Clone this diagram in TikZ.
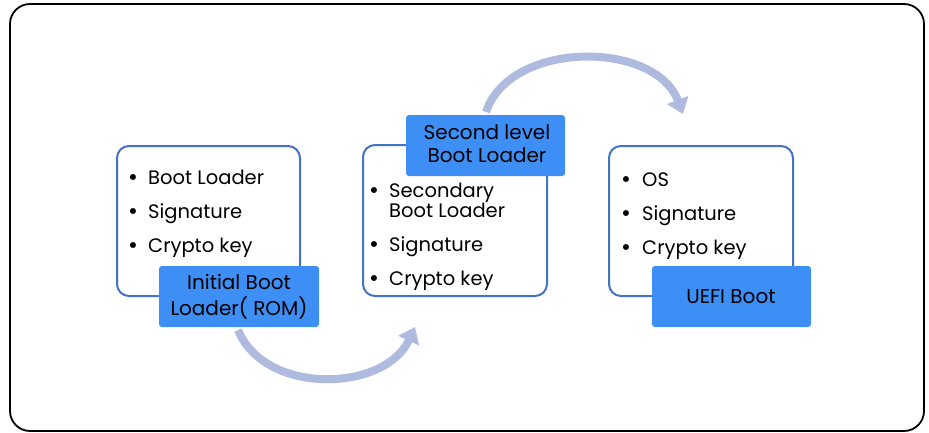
\documentclass[tikz,border=0pt]{standalone}
\usepackage{fontspec}
\setmainfont{Poppins}
\usetikzlibrary{arrows.meta}
\definecolor{outl}{HTML}{4472C4}
\definecolor{lblue}{HTML}{3D8EF5}
\definecolor{arr}{HTML}{AEBBDF}
\tikzset{
  card/.style={draw=outl, line width=2pt, fill=white, rounded corners=12pt},
  tag/.style={fill=lblue, rounded corners=3pt},
  item/.style={anchor=base west, inner sep=0pt, font=\fontsize{19.5}{20}\selectfont},
  dot/.style={anchor=base, inner sep=0pt, font=\fontsize{24}{20}\selectfont},
  tagtext/.style={align=center, inner sep=0pt, font=\fontsize{20}{26}\selectfont},
  flow/.style={draw=arr, line width=8pt, -{Triangle[width=22pt,length=15pt]}}
}
\begin{document}
\begin{tikzpicture}[x=1pt,y=-1pt]
\useasboundingbox (0,0) rectangle (929,432);
\draw[line width=1.8pt, rounded corners=20pt] (10,4) rectangle (924,431);

% box 1
\draw[card] (117,146) rectangle (300,296);
\fill[tag] (159,266) rectangle (319,327);
\node[tagtext] (t1txt) at (239,296.5) {Initial Boot\\Loader( ROM)};
\node[dot] (b11) at (133,185) {•};
\node[item] (i11) at (148,184) {Boot Loader};
\node[dot] (b12) at (133,219) {•};
\node[item] (i12) at (148,218) {Signature};
\node[dot] (b13) at (133,253) {•};
\node[item] (i13) at (148,252) {Crypto key};

% box 2
\draw[card] (363,145) rectangle (547,296);
\fill[tag] (406,115) rectangle (565,176);
\node[tagtext, font=\fontsize{20}{23}\selectfont] (t2txt) at (487,144) {Second level\\Boot Loader};
\node[dot] (b21) at (374,198) {•};
\node[item] (i21) at (389,197) {Secondary};
\node[item] (i21b) at (389,217) {Boot Loader};
\node[dot] (b22) at (374,252) {•};
\node[item] (i22) at (389,251) {Signature};
\node[dot] (b23) at (374,286) {•};
\node[item] (i23) at (389,285) {Crypto key};

% box 3
\draw[card] (609,146) rectangle (793,296);
\fill[tag] (652,266) rectangle (811,327);
\node[tagtext] (t3txt) at (731,296.5) {UEFI Boot};
\node[dot] (b31) at (626,187) {•};
\node[item] (i31) at (642,186) {OS};
\node[dot] (b32) at (626,221) {•};
\node[item] (i32) at (642,220) {Signature};
\node[dot] (b33) at (626,255) {•};
\node[item] (i33) at (642,254) {Crypto key};

% arrows
\coordinate (a1s) at (238,330);
\coordinate (a1e) at (415,327);
\draw[flow] (a1s) .. controls (265,396) and (385,392) .. (a1e);
\coordinate (a2s) at (486,112);
\coordinate (a2e) at (683,114);
\draw[flow] (a2s) .. controls (510,40) and (655,40) .. (a2e);
\end{tikzpicture}
\end{document}
